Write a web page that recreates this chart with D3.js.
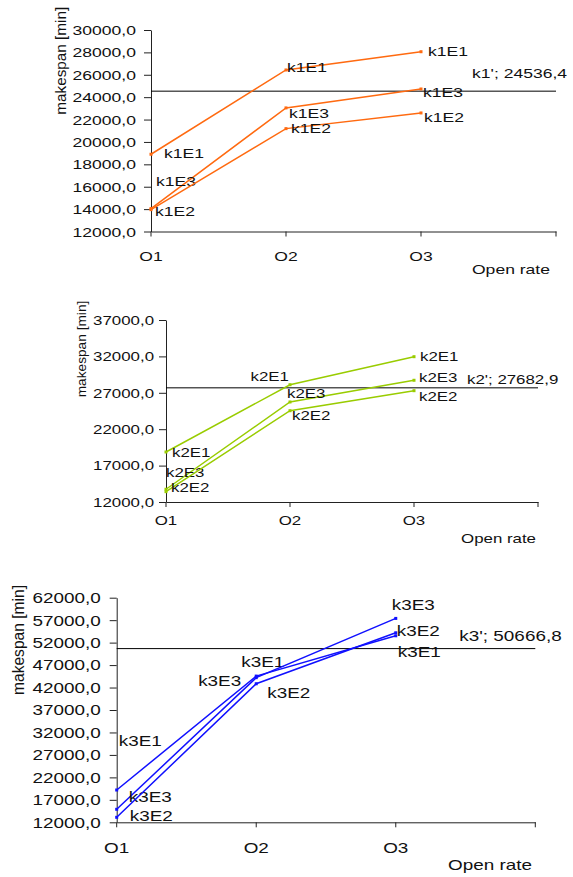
<!DOCTYPE html>
<html>
<head>
<meta charset="utf-8">
<script src="https://cdn.jsdelivr.net/npm/d3@7"></script>
<style>
  html, body { margin: 0; padding: 0; background: #fff; }
  svg { display: block; }
  text { font-family: "Liberation Sans", Arial, Helvetica, sans-serif; fill: #111; }
</style>
</head>
<body>
<svg id="chart" width="573" height="877"></svg>
<script>
// ---- data ----
const categories = ["O1", "O2", "O3"];

const seriesK1 = ["k1E1", "k1E3", "k1E2"];
const k1E1 = [18900, 26430, 28060];
const k1E3 = [14050, 23040, 24730];
const k1E2 = [13950, 21190, 22590];
const refK1 = 24536.4;
const yTicksK1 = [12000, 14000, 16000, 18000, 20000, 22000, 24000, 26000, 28000, 30000];

const seriesK2 = ["k2E1", "k2E3", "k2E2"];
const k2E1 = [18870, 28110, 31960];
const k2E3 = [13750, 25740, 28720];
const k2E2 = [13420, 24540, 27290];
const refK2 = 27682.9;
const yTicksK2 = [12000, 17000, 22000, 27000, 32000, 37000];

const seriesK3 = ["k3E1", "k3E3", "k3E2"];
const k3E1 = [19190, 44550, 53520];
const k3E3 = [14890, 44200, 57390];
const k3E2 = [13110, 42840, 54190];
const refK3 = 50666.8;
const yTicksK3 = [12000, 17000, 22000, 27000, 32000, 37000, 42000, 47000, 52000, 57000, 62000];

// ---- layout ----
// numbers written with a decimal comma, one decimal place
const fmt = v => d3.format(".1f")(v).replace(".", ",");
const SX = 1.35; // horizontal text widening

const panels = [
  {
    ref: refK1, refName: "k1'", color: "#ff6a10", yTicks: yTicksK1, domain: [12000, 30000],
    names: seriesK1, values: [k1E1, k1E3, k1E2],
    x0: 151, x1: 556, yTop: 30, yBot: 231.5,
    font: 13, titleFont: 15.3, titleX: 61, tickOff: 15, xLabOff: 24.5,
    refLab: { dx: -84, dy: -18 },
    openRate: { x: 550, y: 269.5 },
    // label nudges [dx, dy, anchor] per series per category
    nudges: [
      [[13, -1, "start"], [1, -3, "start"], [7, 0, "start"]],
      [[5, -27, "start"], [3, 6, "start"], [2, 3, "start"]],
      [[4, 2, "start"], [5, 0, "start"], [3, 4, "start"]]
    ]
  },
  {
    ref: refK2, refName: "k2'", color: "#99cc00", yTicks: yTicksK2, domain: [12000, 37000],
    names: seriesK2, values: [k2E1, k2E3, k2E2],
    x0: 166, x1: 538, yTop: 320, yBot: 502,
    font: 12.5, titleFont: 13.7, titleX: 81.5, tickOff: 12, xLabOff: 18.5,
    refLab: { dx: -71, dy: -8 },
    openRate: { x: 536, y: 538.5 },
    nudges: [
      [[6, 1, "start"], [-1, -8, "end"], [6, 0, "start"]],
      [[0, -17, "start"], [-3, -8, "start"], [5, -3, "start"]],
      [[5, -4, "start"], [2, 5, "start"], [5, 6, "start"]]
    ]
  },
  {
    ref: refK3, refName: "k3'", color: "#1010ff", yTicks: yTicksK3, domain: [12000, 62000],
    names: seriesK3, values: [k3E1, k3E3, k3E2],
    x0: 116.7, x1: 535.3, yTop: 597.7, yBot: 822.3,
    font: 14, titleFont: 15.6, titleX: 19, tickOff: 16, xLabOff: 25.7,
    refLab: { dx: -76, dy: -13 },
    openRate: { x: 532, y: 865 },
    nudges: [
      [[2, -49, "start"], [-15, -14, "start"], [2, 16, "start"]],
      [[12, -12, "start"], [-15, 3, "end"], [-4, -13, "start"]],
      [[13, -1, "start"], [11, 9, "start"], [1, -2, "start"]]
    ]
  }
];

const svg = d3.select("#chart");

function label(g, x, y, str, anchor, size) {
  return g.append("text")
    .attr("transform", `translate(${x},${y}) scale(${SX},1)`)
    .attr("text-anchor", anchor)
    .attr("dy", "0.35em")
    .style("font-size", size + "px")
    .text(str);
}

panels.forEach(p => {
  const g = svg.append("g");
  const x = d3.scalePoint().domain([...categories, ""]).range([p.x0, p.x1]);
  const y = d3.scaleLinear().domain(p.domain).range([p.yBot, p.yTop]);

  // y axis
  const ya = g.append("g").attr("transform", `translate(${p.x0},0)`)
    .call(d3.axisLeft(y).tickValues(p.yTicks).tickSize(7).tickSizeOuter(0).tickFormat(fmt));
  ya.selectAll("text")
    .attr("x", -p.tickOff / SX)
    .attr("transform", `scale(${SX},1)`)
    .attr("dy", "0.35em")
    .style("font-size", p.font + "px")
    .style("font-family", null)
    .attr("fill", "#111");
  ya.attr("font-family", null).attr("font-size", null);

  // x axis
  const xa = g.append("g").attr("transform", `translate(0,${p.yBot})`)
    .call(d3.axisBottom(x).tickSize(5).tickSizeOuter(0));
  xa.selectAll("text")
    .attr("y", p.xLabOff / 1)
    .attr("dy", "0.35em")
    .attr("transform", `scale(${SX},1)`)
    .attr("x", 0)
    .style("font-size", p.font + "px")
    .attr("fill", "#111");
  // keep tick labels centred under their ticks after widening
  xa.selectAll(".tick").each(function (d) {
    d3.select(this).attr("transform", `translate(${x(d)},0)`);
  });
  xa.attr("font-family", null).attr("font-size", null);
  g.selectAll(".domain, .tick line").attr("stroke", "#222").attr("stroke-width", 1);

  // axis titles
  g.append("text")
    .attr("transform", `translate(${p.titleX},${(p.yTop + p.yBot) / 2 - (p === panels[1] ? 62 : 70)}) rotate(-90)`)
    .attr("text-anchor", "middle")
    .attr("dy", "0.35em")
    .style("font-size", p.titleFont + "px")
    .text("makespan [min]");
  label(g, p.openRate.x, p.openRate.y, "Open rate", "end", p.font);

  // reference line
  g.append("line")
    .attr("x1", p.x0).attr("x2", p.x1)
    .attr("y1", y(p.ref)).attr("y2", y(p.ref))
    .attr("stroke", "#000").attr("stroke-width", 1);
  label(g, p.x1 + p.refLab.dx, y(p.ref) + p.refLab.dy, `${p.refName}; ${fmt(p.ref)}`, "start", p.font);

  // series
  const line = d3.line().x((d, i) => x(categories[i])).y(d => y(d));
  p.values.forEach((vals, si) => {
    g.append("path")
      .attr("d", line(vals))
      .attr("fill", "none")
      .attr("stroke", p.color)
      .attr("stroke-width", 1.5);
    g.selectAll(null).data(vals).enter().append("rect")
      .attr("x", (d, i) => x(categories[i]) - 1.5)
      .attr("y", d => y(d) - 1.5)
      .attr("width", 3).attr("height", 3)
      .attr("fill", p.color);
    vals.forEach((v, i) => {
      const [dx, dy, anchor] = p.nudges[si][i];
      label(g, x(categories[i]) + dx, y(v) + dy, p.names[si], anchor, p.font);
    });
  });
});
</script>
</body>
</html>
